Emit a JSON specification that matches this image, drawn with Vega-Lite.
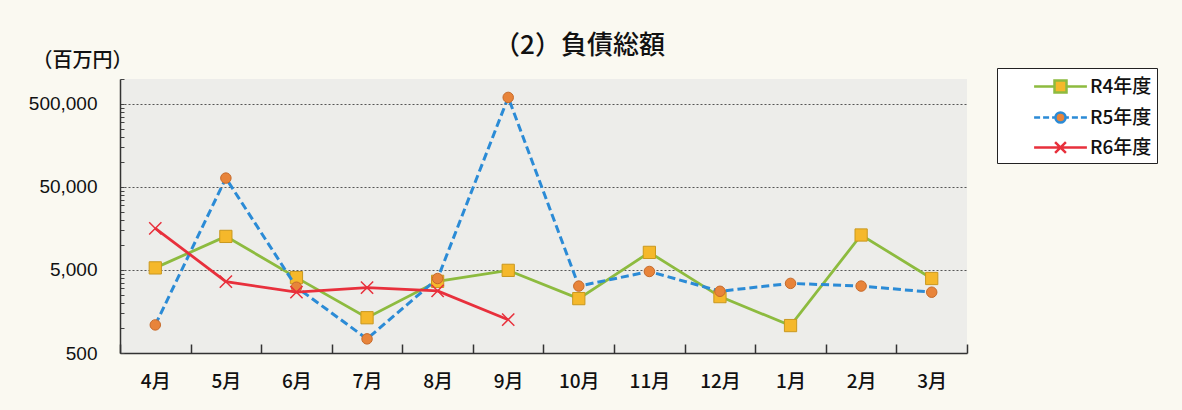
{
  "$schema": "https://vega.github.io/schema/vega-lite/v6.json",
  "width": 847,
  "height": 274,
  "autosize": "none",
  "padding": {"left": 120, "top": 79, "right": 215, "bottom": 57},
  "background": "#faf9f1",
  "config": {
    "view": {"fill": "#ededea", "stroke": null},
    "font": "Noto Sans CJK JP"
  },
  "title": {
    "text": "（2）負債総額",
    "anchor": "middle",
    "dx": 36,
    "dy": 29,
    "offset": 20,
    "fontSize": 26,
    "fontWeight": 500,
    "color": "#111",
    "font": "Noto Sans CJK JP"
  },
  "data": {
    "values": [
      {"month": "4月", "series": "R4年度", "value": 5300},
      {"month": "5月", "series": "R4年度", "value": 12700},
      {"month": "6月", "series": "R4年度", "value": 4050},
      {"month": "7月", "series": "R4年度", "value": 1330},
      {"month": "8月", "series": "R4年度", "value": 3650},
      {"month": "9月", "series": "R4年度", "value": 4950},
      {"month": "10月", "series": "R4年度", "value": 2260},
      {"month": "11月", "series": "R4年度", "value": 8150},
      {"month": "12月", "series": "R4年度", "value": 2390},
      {"month": "1月", "series": "R4年度", "value": 1070},
      {"month": "2月", "series": "R4年度", "value": 13200},
      {"month": "3月", "series": "R4年度", "value": 3950},
      {"month": "4月", "series": "R5年度", "value": 1090},
      {"month": "5月", "series": "R5年度", "value": 64000},
      {"month": "6月", "series": "R5年度", "value": 3100},
      {"month": "7月", "series": "R5年度", "value": 740},
      {"month": "8月", "series": "R5年度", "value": 3950},
      {"month": "9月", "series": "R5年度", "value": 600000},
      {"month": "10月", "series": "R5年度", "value": 3200},
      {"month": "11月", "series": "R5年度", "value": 4800},
      {"month": "12月", "series": "R5年度", "value": 2770},
      {"month": "1月", "series": "R5年度", "value": 3450},
      {"month": "2月", "series": "R5年度", "value": 3200},
      {"month": "3月", "series": "R5年度", "value": 2700},
      {"month": "4月", "series": "R6年度", "value": 15900},
      {"month": "5月", "series": "R6年度", "value": 3620},
      {"month": "6月", "series": "R6年度", "value": 2700},
      {"month": "7月", "series": "R6年度", "value": 3070},
      {"month": "8月", "series": "R6年度", "value": 2800},
      {"month": "9月", "series": "R6年度", "value": 1260}
    ]
  },
  "encoding": {
    "x": {
      "field": "month",
      "type": "ordinal",
      "bandPosition": 0.5,
      "sort": ["4月", "5月", "6月", "7月", "8月", "9月", "10月", "11月", "12月", "1月", "2月", "3月"],
      "scale": {"type": "band", "paddingInner": 0, "paddingOuter": 0},
      "axis": {
        "title": null,
        "labelAngle": 0,
        "tickBand": "extent",
        "tickSize": -9,
        "tickColor": "#333",
        "tickWidth": 1.5,
        "domainColor": "#333",
        "domainWidth": 1.5,
        "labelFont": "Noto Sans CJK JP",
        "labelFontSize": 19,
        "labelFontWeight": 500,
        "labelColor": "#111",
        "labelPadding": 28,
        "grid": false
      }
    },
    "y": {
      "field": "value",
      "type": "quantitative",
      "scale": {"type": "log", "domain": [500, 1000000], "nice": false},
      "axis": {
        "title": "（百万円）",
        "titleAngle": 0,
        "titleX": -38,
        "titleY": -19,
        "titleAlign": "center",
        "titleBaseline": "middle",
        "titleFont": "Noto Sans CJK JP",
        "titleFontSize": 20,
        "titleFontWeight": 500,
        "titleColor": "#111",
        "values": [500, 1000, 1500, 2000, 2500, 3000, 3500, 4000, 4500, 5000, 10000, 15000, 20000, 25000, 30000, 35000, 40000, 45000, 50000, 100000, 150000, 200000, 250000, 300000, 350000, 400000, 450000, 500000, 1000000],
        "labelExpr": "indexof([500, 5000, 50000, 500000], datum.value) >= 0 ? format(datum.value, ',') : ''",
        "labelFont": "Liberation Sans",
        "labelFontSize": 19,
        "labelColor": "#111",
        "labelPadding": 27,
        "tickSize": -4,
        "tickColor": "#444",
        "tickWidth": 1,
        "domainColor": "#333",
        "domainWidth": 1.5,
        "grid": true,
        "gridColor": "#555",
        "gridDash": [2, 2],
        "gridWidth": 1,
        "gridOpacity": {"condition": {"test": "indexof([5000, 50000, 500000], datum.value) >= 0", "value": 1}, "value": 0}
      }
    }
  },
  "layer": [
    {
      "transform": [{"filter": "datum.series === 'R4年度'"}],
      "mark": {"type": "line", "stroke": "#8dbb3f", "strokeWidth": 2.8},
      "encoding": {}
    },
    {
      "transform": [{"filter": "datum.series === 'R4年度'"}],
      "mark": {"type": "point", "shape": "square", "size": 150, "filled": true, "fill": "#f5b82b", "stroke": "#c9981f", "strokeWidth": 1, "opacity": 1},
      "encoding": {}
    },
    {
      "transform": [{"filter": "datum.series === 'R5年度'"}],
      "mark": {"type": "line", "stroke": "#2b8bd6", "strokeWidth": 3, "strokeDash": [8, 4]},
      "encoding": {}
    },
    {
      "transform": [{"filter": "datum.series === 'R5年度'"}],
      "mark": {"type": "point", "shape": "circle", "size": 110, "filled": true, "fill": "#e8843a", "stroke": "#c76a2a", "strokeWidth": 1, "opacity": 1},
      "encoding": {}
    },
    {
      "transform": [{"filter": "datum.series === 'R6年度'"}],
      "mark": {"type": "line", "stroke": "#e8303c", "strokeWidth": 2.8},
      "encoding": {}
    },
    {
      "transform": [{"filter": "datum.series === 'R6年度'"}],
      "mark": {"type": "point", "shape": "M-1,-1L1,1M-1,1L1,-1", "size": 150, "filled": false, "stroke": "#e8303c", "strokeWidth": 1.5, "opacity": 1},
      "encoding": {}
    },
    {
      "mark": {"type": "point", "clip": true, "strokeWidth": 2.5, "opacity": 1},
      "encoding": {
        "y": {"datum": 1},
        "shape": {
          "field": "series",
          "type": "nominal",
          "scale": {
            "domain": ["R4年度", "R5年度", "R6年度"],
            "range": [
              "M-2.2,0H-0.5M0.5,0H2.2M-0.5,-0.5H0.5V0.5H-0.5Z",
              "M-2.2,0H-1.7M-1.45,0H-0.95M-0.7,0H-0.42M0.42,0H0.7M0.95,0H1.45M1.7,0H2.2M-0.42,0A0.42,0.42 0 1,0 0.42,0A0.42,0.42 0 1,0 -0.42,0Z",
              "M-2.2,0H2.2M-0.45,-0.45L0.45,0.45M-0.45,0.45L0.45,-0.45"
            ]
          },
          "legend": {
            "title": null,
            "orient": "none",
            "legendX": 877,
            "legendY": -11,
            "padding": 5,
            "strokeColor": "#222",
            "fillColor": "#ffffff",
            "symbolSize": 576,
            "symbolStrokeWidth": 2.5,
            "symbolOffset": 45,
            "labelOffset": 16,
            "rowPadding": 6,
            "labelFont": "Noto Sans CJK JP",
            "labelFontSize": 19,
            "labelFontWeight": 500,
            "labelColor": "#111"
          }
        },
        "fill": {
          "field": "series",
          "type": "nominal",
          "scale": {"domain": ["R4年度", "R5年度", "R6年度"], "range": ["#f5b82b", "#e8843a", "transparent"]},
          "legend": {"title": null}
        },
        "stroke": {
          "field": "series",
          "type": "nominal",
          "scale": {"domain": ["R4年度", "R5年度", "R6年度"], "range": ["#8dbb3f", "#2b8bd6", "#e8303c"]},
          "legend": {"title": null}
        }
      }
    }
  ]
}
